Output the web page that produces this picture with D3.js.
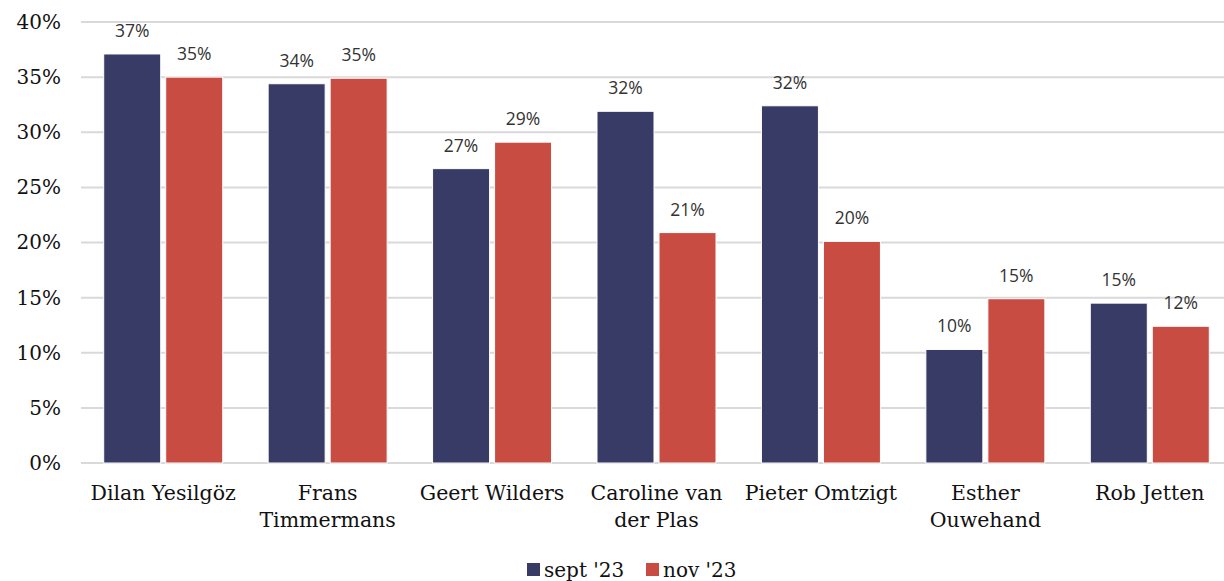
<!DOCTYPE html>
<html><head><meta charset="utf-8">
<script src="https://cdn.jsdelivr.net/npm/d3@7"></script>
<style>body{margin:0;background:#fff}svg{display:block}</style>
</head><body>
<svg id="c" width="1224" height="581"></svg>
<script>
const categories = [["Dilan Yesilgöz"],["Frans","Timmermans"],["Geert Wilders"],["Caroline van","der Plas"],["Pieter Omtzigt"],["Esther","Ouwehand"],["Rob Jetten"]];
const seriesNames = ["sept '23","nov '23"];
const sept = [37.1,34.4,26.7,31.9,32.4,10.3,14.5];
const nov = [35.0,34.9,29.1,20.9,20.1,14.9,12.4];
const yTicks = [0,5,10,15,20,25,30,35,40];
const colors = ["#383b66","#c94c43"];

const svg = d3.select("#c");
const W = 1224, H = 581;
const x = d3.scaleBand().domain(d3.range(categories.length)).range([81, 1232]).paddingInner(0).paddingOuter(0);
const y = d3.scaleLinear().domain([0,40]).range([463,22]);
const serif = "'DejaVu Serif', serif";
const sans = "'Open Sans', 'Noto Sans', sans-serif";

// gridlines
svg.append("g").selectAll("line").data(yTicks).join("line")
  .attr("x1", 81).attr("x2", W).attr("y1", d=>y(d)).attr("y2", d=>y(d))
  .attr("stroke", "#d9d9d9").attr("stroke-width", 2);

const yAxis = d3.axisLeft(y).tickValues(yTicks).tickFormat(d=>d+"%").tickSize(0).tickPadding(0);
const ga = svg.append("g").attr("transform", "translate(61,0)").call(yAxis);
ga.select(".domain").remove();
ga.selectAll("text").attr("font-family", serif).attr("font-size", 20).attr("fill", "#111");

const data = [sept, nov];
const bw = 57, gap = 5;
data.forEach((vals, si) => {
  const g = svg.append("g");
  const off = si === 0 ? -(gap/2 + bw) : gap/2;
  g.selectAll("rect").data(vals).join("rect")
    .attr("x", (d,i)=> x(i) + x.bandwidth()/2 + off)
    .attr("y", d=>y(d)).attr("width", bw).attr("height", d=>y(0)-y(d))
    .attr("fill", colors[si]).attr("stroke", "#fff").attr("stroke-width", 1);
  g.selectAll("text").data(vals).join("text")
    .attr("x", (d,i)=> x(i) + x.bandwidth()/2 + off + bw/2)
    .attr("y", d=>y(d) - 17)
    .attr("text-anchor","middle").attr("font-family", sans).attr("font-size", 17.5).attr("fill","#333")
    .text(d=>Math.round(d)+"%");
});

// category labels
const cg = svg.append("g");
categories.forEach((lines, i) => {
  const t = cg.append("text").attr("text-anchor","middle").attr("font-family", serif)
    .attr("font-size", 20.5).attr("fill","#111");
  lines.forEach((ln, k) => {
    t.append("tspan").attr("x", x(i)+x.bandwidth()/2).attr("y", 500 + k*27).text(ln);
  });
});

// legend
const lg = svg.append("g");
const items = [{x:527, tx:544}, {x:646, tx:663}];
seriesNames.forEach((n, i) => {
  lg.append("rect").attr("x", items[i].x).attr("y", 563).attr("width", 13).attr("height", 13).attr("fill", colors[i]);
  lg.append("text").attr("x", items[i].tx).attr("y", 577).attr("font-family", serif).attr("font-size", 20).attr("fill","#111").text(n);
});
</script>
</body></html>
